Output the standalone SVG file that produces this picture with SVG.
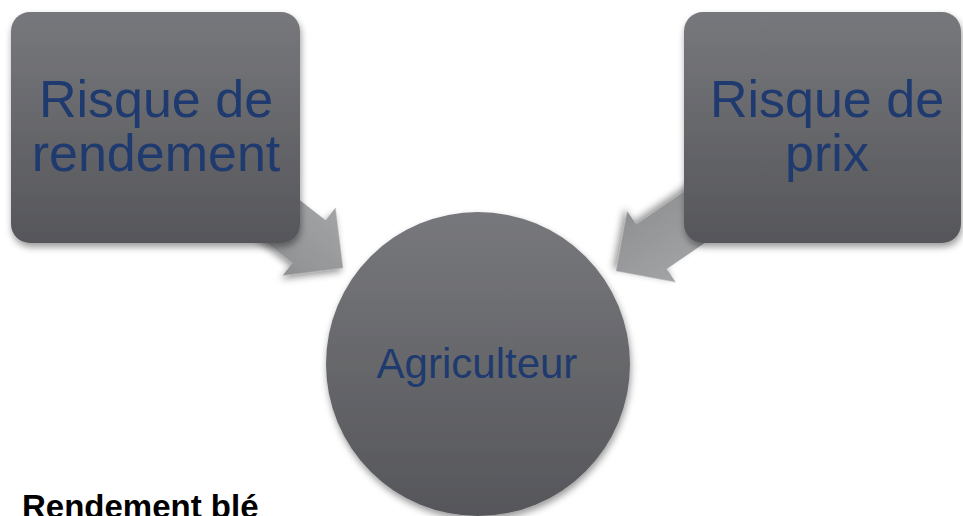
<svg xmlns="http://www.w3.org/2000/svg" width="963" height="516" viewBox="0 0 963 516">
  <defs>
    <linearGradient id="gBox" x1="0" y1="0" x2="0" y2="1">
      <stop offset="0" stop-color="#77787c"/>
      <stop offset="1" stop-color="#55565a"/>
    </linearGradient>
    <linearGradient id="gArrow" x1="0" y1="0" x2="0" y2="1">
      <stop offset="0" stop-color="#a3a4a6"/>
      <stop offset="1" stop-color="#8f9092"/>
    </linearGradient>
    <filter id="shadow" x="-20%" y="-20%" width="140%" height="140%">
      <feDropShadow dx="1" dy="4" stdDeviation="3.5" flood-color="#000" flood-opacity="0.4"/>
    </filter>
    <polygon id="arrowShape" points="0,0 -43,-43 -43,-27 -135,-27 -135,27 -43,27 -43,43"/>
  </defs>
  <style>
    .box { fill: url(#gBox); filter: url(#shadow); }
    .arrow { fill: url(#gArrow); filter: url(#shadow); }
    .lbl { font-family: "Liberation Sans", Arial, sans-serif; fill: #1f3a6e; text-anchor: middle; }
    .big { font-size: 52px; }
    .mid { font-size: 42px; }
    .title { font-family: "Liberation Sans", Arial, sans-serif; font-weight: bold; font-size: 33px; fill: #000; }
  </style>
  <rect width="963" height="516" fill="#ffffff"/>

  <g id="connectors">
    <use href="#arrowShape" class="arrow" transform="translate(343,268) rotate(37.9)"/>
    <use href="#arrowShape" class="arrow" transform="translate(616,271) rotate(145.6)"/>
  </g>

  <g id="node-rendement">
    <rect class="box" x="11" y="12" width="289" height="231" rx="19" ry="19"/>
    <text class="lbl big" x="156" y="117">Risque de</text>
    <text class="lbl big" x="156" y="171">rendement</text>
  </g>

  <g id="node-prix">
    <rect class="box" x="684" y="12" width="277" height="231" rx="19" ry="19"/>
    <text class="lbl big" x="827" y="117">Risque de</text>
    <text class="lbl big" x="827" y="171">prix</text>
  </g>

  <g id="node-agriculteur">
    <circle class="box" cx="478" cy="364" r="152"/>
    <text class="lbl mid" x="477" y="378">Agriculteur</text>
  </g>

  <g id="title">
    <text class="title" x="22" y="518">Rendement blé</text>
  </g>
</svg>
